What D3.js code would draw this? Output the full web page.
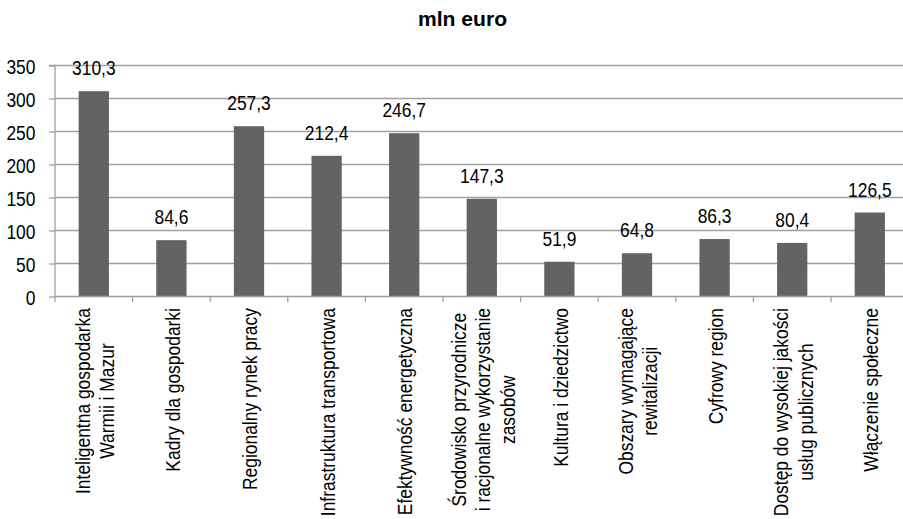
<!DOCTYPE html>
<html><head><meta charset="utf-8">
<script src="https://cdn.jsdelivr.net/npm/d3@7"></script>
<style>
html,body{margin:0;padding:0;background:#fff;}
text{font-family:"Liberation Sans",Arial,sans-serif;}
</style></head>
<body>
<svg id="chart" width="903" height="519"></svg>
<script>
const title = "mln euro";
const categories = [
  ["Inteligentna gospodarka","Warmii i Mazur"],
  ["Kadry dla gospodarki"],
  ["Regionalny rynek pracy"],
  ["Infrastruktura transportowa"],
  ["Efektywność energetyczna"],
  ["Środowisko przyrodnicze","i racjonalne wykorzystanie","zasobów"],
  ["Kultura i dziedzictwo"],
  ["Obszary wymagające","rewitalizacji"],
  ["Cyfrowy region"],
  ["Dostęp do wysokiej jakości","usług publicznych"],
  ["Włączenie społeczne"]
];
const values = [310.3, 84.6, 257.3, 212.4, 246.7, 147.3, 51.9, 64.8, 86.3, 80.4, 126.5];
const valueLabels = ["310,3","84,6","257,3","212,4","246,7","147,3","51,9","64,8","86,3","80,4","126,5"];
const yTicks = [0, 50, 100, 150, 200, 250, 300, 350];
const yTickLabels = ["0","50","100","150","200","250","300","350"];

(function(){
const svg = d3.select("#chart");
const pLeft = 55, pRight = 908.6, pTop = 65, pBottom = 296;
const gridColor = "#a0a0a0";
const barColor = "#636363";
const fs = 20.5;
const sx = 0.85;

const keys = categories.map((c,i)=>String(i));
const x = d3.scaleBand().domain(keys).range([pLeft, pRight]).paddingInner(0.61).paddingOuter(0.305);
const xb = d3.scaleBand().domain(keys).range([pLeft, pRight]).padding(0);
const y = d3.scaleLinear().domain([0, 350]).range([pBottom, pTop]);

svg.append("text").attr("x", 462.5).attr("y", 26).attr("text-anchor","middle")
  .attr("font-size", 20).attr("font-weight","bold").attr("fill","#000")
  .attr("textLength", 89).attr("lengthAdjust","spacingAndGlyphs").text(title);

svg.append("g").selectAll("line").data(yTicks.filter(d=>d>0)).join("line")
  .attr("x1", pLeft).attr("x2", 903).attr("y1", d=>y(d)+0.5).attr("y2", d=>y(d)+0.5)
  .attr("stroke", gridColor).attr("stroke-width",1.3);

svg.append("g").selectAll("rect").data(values).join("rect")
  .attr("x", (d,i)=>x(keys[i])).attr("width", x.bandwidth())
  .attr("y", d=>y(d)).attr("height", d=>y(0)-y(d)).attr("fill", barColor);

const yAxis = d3.axisLeft(y).tickValues(yTicks).tickFormat((d,i)=>yTickLabels[i]).tickSize(6).tickPadding(12);
const ga = svg.append("g").attr("transform",`translate(${pLeft},0)`).call(yAxis);
ga.select(".domain").attr("stroke", gridColor).attr("stroke-width",1.3).attr("d", `M-6,${pTop+0.5}H0V${pBottom+6}`);
ga.selectAll(".tick line").attr("stroke", gridColor).attr("stroke-width",1.3).attr("transform","translate(0,0.5)");
ga.selectAll(".tick text").attr("font-size", fs).attr("font-family","Liberation Sans, Arial, sans-serif")
  .attr("fill","#000").attr("x", 0).attr("dy","0.43em")
  .attr("transform", `translate(-19.5,0) scale(${sx},1)`);

svg.append("line").attr("x1", pLeft).attr("x2", 903).attr("y1", pBottom+0.5).attr("y2", pBottom+0.5)
  .attr("stroke", gridColor).attr("stroke-width",1.3);
const bounds = keys.map(k=>xb(k)+xb.bandwidth());
svg.append("g").selectAll("line").data(bounds).join("line")
  .attr("x1", d=>d).attr("x2", d=>d).attr("y1", pBottom).attr("y2", pBottom+6)
  .attr("stroke", gridColor).attr("stroke-width",1.3);

svg.append("g").selectAll("text").data(values).join("text")
  .attr("transform", (d,i)=>`translate(${x(keys[i]) + x.bandwidth()/2},${y(d)-16}) scale(${sx},1)`)
  .attr("text-anchor","middle").attr("font-size", fs).attr("fill","#000")
  .text((d,i)=>valueLabels[i]);

const lineGap = 24.5;
const labelTop = 308;
categories.forEach((lines,i)=>{
  const cx = xb(keys[i]) + xb.bandwidth()/2;
  const g = svg.append("g");
  const texts = lines.map((ln,j)=>{
    const off = (j - (lines.length-1)/2)*lineGap;
    return g.append("text").attr("font-size", fs).attr("fill","#000").attr("text-anchor","middle")
      .attr("dy","0.4em").text(ln).datum(off);
  });
  const maxW = d3.max(texts, t=>t.node().getComputedTextLength()) * sx;
  const cy = labelTop + maxW/2;
  texts.forEach(t=>{
    const off = t.datum();
    t.attr("transform", `translate(${cx+off},${cy}) rotate(-90) scale(${sx},1)`);
  });
});
})();
</script>
</body></html>
